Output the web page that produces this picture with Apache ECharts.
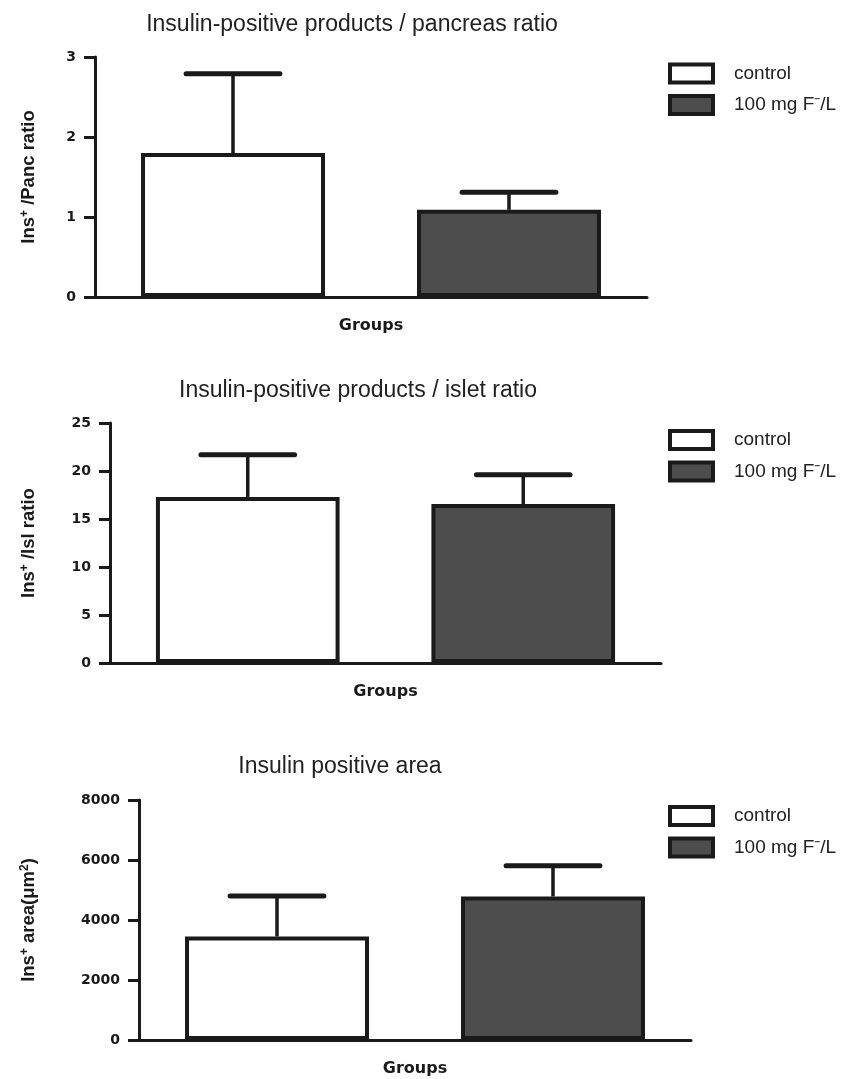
<!DOCTYPE html>
<html>
<head>
<meta charset="utf-8">
<script src="https://cdn.jsdelivr.net/npm/echarts@6/dist/echarts.min.js"></script>
<style>
  html, body { margin: 0; padding: 0; background: #fff; }
  #chart { width: 856px; height: 1079px; }
</style>
</head>
<body>
<div id="chart"></div>
<script>
// groups
const groups = ['control', '100 mg F\u207B/L']

// panel 1: ins+/pancreas ratio
const pancMean = [1.80, 1.09]
const pancSem = [0.99, 0.22]
// panel 2: ins+/islet ratio
const isletMean = [17.3, 16.55]
const isletSem = [4.4, 3.05]
// panel 3: ins+ area (um2)
const areaMean = [3450, 4785]
const areaSem = [1350, 1025]

const titles = [
  'Insulin-positive products / pancreas ratio',
  'Insulin-positive products / islet ratio',
  'Insulin positive area'
]
const yNames = [
  'Ins{sup|+} /Panc ratio',
  'Ins{sup|+} /Isl ratio',
  'Ins{sup|+} area(\u03BCm{sup|2})'
]

const ink = '#1a1a1a'
const fills = ['#ffffff', '#4d4d4d']
const font = 'Liberation Sans, Arial, sans-serif'
const wideFont = 'DejaVu Sans, sans-serif'

// layout of each panel
const panels = [
  { grid: { left: 95, width: 552, top: 57, height: 240 }, max: 3, interval: 1, nameGap: 56, titleX: 352, titleY: 13, legendTop: 62.5,
    mean: pancMean, sem: pancSem },
  { grid: { left: 110, width: 551, top: 423, height: 240 }, max: 25, interval: 5, nameGap: 71, titleX: 358, titleY: 379, legendTop: 429,
    mean: isletMean, sem: isletSem },
  { grid: { left: 139, width: 552, top: 800, height: 240 }, max: 8000, interval: 2000, nameGap: 100, titleX: 340, titleY: 755, legendTop: 805,
    mean: areaMean, sem: areaSem }
]

const chart = echarts.init(document.getElementById('chart'))

const option = {
  animation: false,
  textStyle: { fontFamily: font },
  title: [],
  legend: [],
  grid: [],
  xAxis: [],
  yAxis: [],
  series: []
}

panels.forEach((p, i) => {
  const suffix = i ? ' '.repeat(i) : ''
  option.title.push({
    text: titles[i],
    left: p.titleX,
    top: p.titleY,
    textAlign: 'center',
    padding: 0,
    textStyle: { fontFamily: font, fontSize: 23, fontWeight: 'normal', color: '#222' }
  })
  option.grid.push(p.grid)
  option.xAxis.push({
    type: 'category',
    gridIndex: i,
    data: [''],
    name: 'Groups',
    nameLocation: 'middle',
    nameGap: 21,
    nameTextStyle: { fontFamily: wideFont, fontSize: 16, fontWeight: 'bold', color: ink, verticalAlign: 'top' },
    axisLine: { lineStyle: { color: ink, width: 3 } },
    axisTick: { alignWithLabel: true, length: 7, lineStyle: { color: ink, width: 2.5 } },
    axisLabel: { show: false }
  })
  option.yAxis.push({
    type: 'value',
    gridIndex: i,
    min: 0,
    max: p.max,
    interval: p.interval,
    name: yNames[i],
    nameLocation: 'middle',
    nameGap: p.nameGap,
    nameTextStyle: {
      fontFamily: font, fontSize: 18.5, fontWeight: 'bold', color: ink,
      rich: { sup: { fontFamily: font, fontSize: 12, fontWeight: 'bold', color: ink, verticalAlign: 'top', padding: [0, 0, 8, 0] } }
    },
    axisLine: { show: true, lineStyle: { color: ink, width: 3 } },
    axisTick: { show: true, length: 11, lineStyle: { color: ink, width: 3 } },
    axisLabel: { fontFamily: wideFont, fontSize: 14, fontWeight: 'bold', color: ink, margin: 19, formatter: v => String(v) },
    splitLine: { show: false }
  })
  option.legend.push({
    orient: 'vertical',
    left: 668,
    top: p.legendTop,
    padding: 0,
    itemWidth: 43,
    itemHeight: 18,
    itemGap: 9.5,
    icon: 'rect',
    itemStyle: { borderColor: ink, borderWidth: 4 },
    data: groups.map(g => g + suffix),
    textStyle: { fontFamily: font, fontSize: 19, lineHeight: 18, color: '#222', padding: [0, 0, 0, 16] }
  })
  groups.forEach((g, k) => {
    option.series.push({
      type: 'bar',
      name: g + suffix,
      xAxisIndex: i,
      yAxisIndex: i,
      barWidth: '33.33%',
      barGap: '50%',
      itemStyle: { color: fills[k], borderColor: ink, borderWidth: 4 },
      data: [p.mean[k]]
    })
  })
  // upper error bars (SEM)
  option.series.push({
    type: 'custom',
    xAxisIndex: i,
    yAxisIndex: i,
    z: 1,
    data: p.mean.map((m, k) => [0, m, p.sem[k], k]),
    renderItem: (params, api) => {
      const base = api.coord([api.value(0), api.value(1)])
      const top = api.coord([api.value(0), api.value(1) + api.value(2)])
      const band = api.size([1, 0])[0]
      const x = base[0] + (api.value(3) === 0 ? -1 : 1) * band * 0.25
      const half = band * 0.085
      return {
        type: 'group',
        children: [
          { type: 'line', shape: { x1: x, y1: base[1], x2: x, y2: top[1] }, style: { stroke: ink, lineWidth: 3.5 } },
          { type: 'line', shape: { x1: x - half, y1: top[1], x2: x + half, y2: top[1] }, style: { stroke: ink, lineWidth: 5, lineCap: 'round' } }
        ]
      }
    }
  })
})

chart.setOption(option)
</script>
</body>
</html>
